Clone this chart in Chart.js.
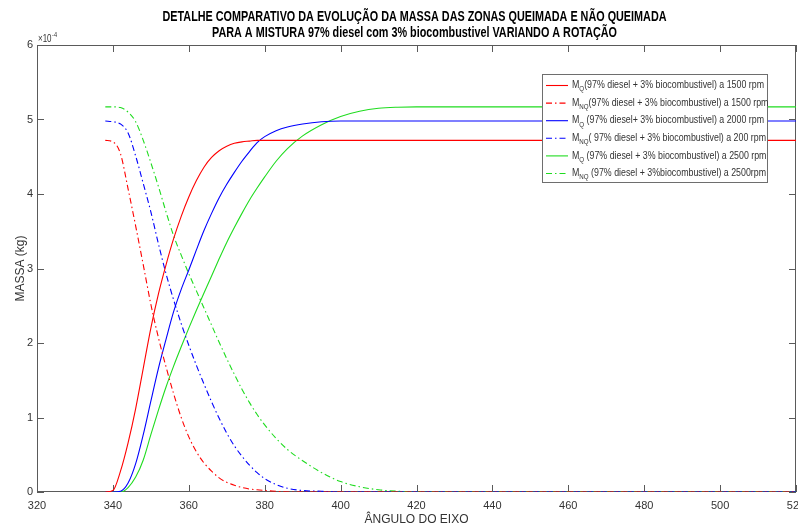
<!DOCTYPE html>
<html lang="pt">
<head>
<meta charset="utf-8">
<title>Massa das zonas queimada e não queimada</title>
<script src="https://cdn.jsdelivr.net/npm/chart.js@4.4.0/dist/chart.umd.min.js"></script>
<style>
  html, body { margin: 0; padding: 0; background: #fff; }
  #wrap { width: 798px; height: 528px; }
</style>
</head>
<body>
<div id="wrap"><canvas id="massChart" width="798" height="528"></canvas></div>
<script>
// =====================================================
//  DADOS — massa em unidades de 1e-4 kg
// =====================================================

const angles = [338, 340, 342, 344, 346, 348, 350, 352, 354, 356, 358, 360, 362, 364, 366, 368,
                370, 372, 374, 376, 378, 380, 383, 386, 390, 395, 400, 405, 410, 415, 420, 430,
                450, 480, 520];

const mq1500  = [0, 0.02, 0.28, 0.66, 1.12, 1.66, 2.20, 2.66, 3.05, 3.40, 3.70, 3.96, 4.18, 4.36, 4.49, 4.58,
                 4.64, 4.68, 4.70, 4.71, 4.72, 4.72, 4.72, 4.72, 4.72, 4.72, 4.72, 4.72, 4.72, 4.72, 4.72, 4.72,
                 4.72, 4.72, 4.72];
const mnq1500 = [4.72, 4.70, 4.54, 4.07, 3.57, 3.05, 2.52, 2.07, 1.68, 1.32, 1.00, 0.74, 0.54, 0.39, 0.28, 0.19,
                 0.13, 0.09, 0.06, 0.04, 0.03, 0.02, 0.01, 0, 0, 0, 0, 0, 0, 0, 0, 0,
                 0, 0, 0];
const mq2000  = [0, 0, 0.01, 0.12, 0.38, 0.77, 1.22, 1.66, 2.05, 2.42, 2.72, 2.98, 3.25, 3.51, 3.74, 3.95,
                 4.13, 4.29, 4.44, 4.57, 4.69, 4.77, 4.85, 4.90, 4.94, 4.97, 4.98, 4.98, 4.98, 4.98, 4.98, 4.98,
                 4.98, 4.98, 4.98];
const mnq2000 = [4.98, 4.97, 4.94, 4.82, 4.51, 4.14, 3.76, 3.33, 2.93, 2.58, 2.26, 1.97, 1.70, 1.45, 1.21, 0.99,
                 0.79, 0.62, 0.48, 0.36, 0.26, 0.18, 0.10, 0.05, 0.02, 0.01, 0, 0, 0, 0, 0, 0,
                 0, 0, 0];
const mq2500  = [0, 0, 0, 0.06, 0.20, 0.43, 0.77, 1.10, 1.41, 1.69, 1.95, 2.20, 2.44, 2.67, 2.90, 3.13,
                 3.35, 3.55, 3.74, 3.92, 4.08, 4.23, 4.44, 4.61, 4.78, 4.93, 5.04, 5.11, 5.15, 5.165, 5.17, 5.17,
                 5.17, 5.17, 5.17];
const mnq2500 = [5.17, 5.17, 5.16, 5.10, 4.97, 4.72, 4.42, 4.10, 3.76, 3.44, 3.18, 2.93, 2.70, 2.47, 2.24, 2.01,
                 1.79, 1.58, 1.38, 1.20, 1.04, 0.90, 0.72, 0.57, 0.42, 0.26, 0.14, 0.07, 0.03, 0.01, 0, 0,
                 0, 0, 0];

const xTicks = [320, 340, 360, 380, 400, 420, 440, 460, 480, 500, 520];
const yTicks = [0, 1, 2, 3, 4, 5, 6];

const titleLines = [
  "DETALHE COMPARATIVO DA EVOLUÇÃO DA MASSA DAS ZONAS QUEIMADA E NÃO QUEIMADA",
  "PARA A MISTURA 97% diesel com 3% biocombustivel VARIANDO A ROTAÇÃO"
];
const legendSub  = ["Q", "NQ", "Q", "NQ", "Q", "NQ"];
const legendNote = [
  "(97% diesel + 3% biocombustivel) a 1500 rpm",
  "(97% diesel + 3% biocombustivel) a 1500 rpm",
  " (97% diesel+ 3% biocombustivel) a 2000 rpm",
  "( 97% diesel + 3% biocombustivel) a 200 rpm",
  " (97% diesel + 3% biocombustivel) a 2500 rpm",
  " (97% diesel + 3%biocombustivel) a 2500rpm"
];

// =====================================================
//  ESTILO
// =====================================================

const SANS       = "'Liberation Sans', Arial, sans-serif";
const TEXT_COLOR = "#333333";
const AXIS_COLOR = "#5a5a5a";
const TICK_LEN   = 7;
const DASH_DOT   = [6, 3, 1.5, 3];
const TITLE_W    = 504;   // largura da 1ª linha do título (px)
const LEGEND_W   = 192;   // largura do texto da 1ª linha da legenda (px)

const seriesValues = [mq1500, mnq1500, mq2000, mnq2000, mq2500, mnq2500];
const seriesColors = ["#ff0000", "#ff0000", "#0000ff", "#0000ff", "#1fdc1f", "#1fdc1f"];

const datasets = seriesValues.map((vals, i) => ({
  label: "M" + legendSub[i] + legendNote[i],
  data: angles.map((a, k) => ({ x: a, y: vals[k] })),
  borderColor: seriesColors[i],
  borderWidth: 1.1,
  borderDash: i % 2 ? DASH_DOT : [],
  pointRadius: 0,
  cubicInterpolationMode: "monotone",
  fill: false
}));

/** texto comprimido na horizontal (imita a fonte estreita do MATLAB) */
function fillCondensed(ctx, text, x, y, sx) {
  ctx.save();
  ctx.translate(x, y);
  ctx.scale(sx, 1);
  ctx.fillText(text, 0, 0);
  ctx.restore();
}

// =====================================================
//  PLUGIN — moldura estilo MATLAB, título, legenda
// =====================================================

const matlabFrame = {
  id: "matlabFrame",
  beforeDatasetsDraw(chart) {
    const { ctx, chartArea: a, scales: { x, y } } = chart;
    ctx.save();
    ctx.strokeStyle = AXIS_COLOR;
    ctx.lineWidth = 1;
    ctx.strokeRect(a.left + 0.5, a.top + 0.5, a.right - a.left - 1, a.bottom - a.top - 1);

    ctx.beginPath();
    xTicks.forEach(v => {
      const px = Math.round(x.getPixelForValue(v)) + 0.5;
      ctx.moveTo(px, a.bottom); ctx.lineTo(px, a.bottom - TICK_LEN);
      ctx.moveTo(px, a.top);    ctx.lineTo(px, a.top + TICK_LEN);
    });
    yTicks.forEach(v => {
      const py = Math.round(y.getPixelForValue(v)) + 0.5;
      ctx.moveTo(a.left, py);  ctx.lineTo(a.left + TICK_LEN, py);
      ctx.moveTo(a.right, py); ctx.lineTo(a.right - TICK_LEN, py);
    });
    ctx.stroke();
    ctx.restore();
  },
  afterDraw(chart) {
    const { ctx, chartArea: a } = chart;
    ctx.save();

    // título
    ctx.fillStyle = "#000";
    ctx.textAlign = "center";
    ctx.textBaseline = "middle";
    ctx.font = "bold 15px " + SANS;
    const tsx = TITLE_W / ctx.measureText(titleLines[0]).width;
    const cx = (a.left + a.right) / 2 - 2;
    titleLines.forEach((t, i) => fillCondensed(ctx, t, cx, 17 + i * 16, tsx));

    // multiplicador ×10^-4
    ctx.textAlign = "left";
    ctx.fillStyle = TEXT_COLOR;
    ctx.font = "10px " + SANS;
    fillCondensed(ctx, "×10", a.left + 1, a.top - 6, 0.8);
    const w10 = ctx.measureText("×10").width * 0.8;
    ctx.font = "7px " + SANS;
    fillCondensed(ctx, "-4", a.left + 1.5 + w10, a.top - 10, 0.8);

    // legenda
    const box = { left: a.right - 254, top: a.top + 29, right: a.right - 29, bottom: a.top + 137 };
    ctx.fillStyle = "#fff";
    ctx.fillRect(box.left, box.top, box.right - box.left, box.bottom - box.top);
    ctx.strokeStyle = "#6e6e6e";
    ctx.lineWidth = 1;
    ctx.strokeRect(box.left + 0.5, box.top + 0.5, box.right - box.left, box.bottom - box.top);

    const MAIN = "10px " + SANS, SUB = "7px " + SANS;
    const rowWidth = i => {
      ctx.font = MAIN;
      let w = ctx.measureText("M").width + ctx.measureText(legendNote[i]).width;
      ctx.font = SUB;
      return w + ctx.measureText(legendSub[i]).width;
    };
    const lsx = LEGEND_W / rowWidth(0);

    chart.data.datasets.forEach((ds, i) => {
      const cy = box.top + 11.5 + i * 17.6;
      ctx.beginPath();
      ctx.strokeStyle = ds.borderColor;
      ctx.lineWidth = 1.1;
      ctx.setLineDash(ds.borderDash);
      ctx.moveTo(box.left + 4, cy);
      ctx.lineTo(box.left + 26, cy);
      ctx.stroke();
      ctx.setLineDash([]);

      ctx.fillStyle = TEXT_COLOR;
      ctx.textBaseline = "middle";
      let tx = box.left + 30;
      ctx.font = MAIN;
      fillCondensed(ctx, "M", tx, cy, lsx);
      tx += ctx.measureText("M").width * lsx;
      ctx.font = SUB;
      fillCondensed(ctx, legendSub[i], tx, cy + 4, lsx);
      tx += ctx.measureText(legendSub[i]).width * lsx;
      ctx.font = MAIN;
      fillCondensed(ctx, legendNote[i], tx, cy, lsx);
    });

    ctx.restore();
  }
};

// =====================================================
//  GRÁFICO
// =====================================================

const ctx = document.getElementById("massChart").getContext("2d");

const massChart = new Chart(ctx, {
  type: "line",
  data: { datasets },
  plugins: [matlabFrame],
  options: {
    responsive: false,
    devicePixelRatio: 1,
    animation: false,
    layout: { padding: { left: 0, right: 2, top: 45, bottom: 0 } },
    plugins: {
      legend:  { display: false },
      tooltip: { enabled: false }
    },
    scales: {
      x: {
        type: "linear",
        min: 320,
        max: 520,
        grid:   { display: false, drawTicks: false },
        border: { display: false },
        ticks: {
          stepSize: 20,
          autoSkip: false,
          maxRotation: 0,
          padding: 7,
          color: TEXT_COLOR,
          font: { family: SANS, size: 11 }
        },
        title: {
          display: true,
          text: "ÂNGULO DO EIXO",
          color: TEXT_COLOR,
          padding: { top: 0, bottom: 1 },
          font: { family: SANS, size: 12 }
        },
        afterFit(scale) {
          scale.height = 36;
          scale.paddingLeft = 0;
          scale.paddingRight = 0;
        }
      },
      y: {
        min: 0,
        max: 6,
        grid:   { display: false, drawTicks: false },
        border: { display: false },
        ticks: {
          stepSize: 1,
          padding: 4,
          color: TEXT_COLOR,
          font: { family: SANS, size: 11 }
        },
        title: {
          display: true,
          text: "MASSA (kg)",
          color: TEXT_COLOR,
          padding: { top: 13, bottom: 0 },
          font: { family: SANS, size: 12 }
        },
        afterFit(scale) {
          scale.width = 37;
          scale.paddingTop = 0;
          scale.paddingBottom = 0;
        }
      }
    }
  }
});
</script>
</body>
</html>
